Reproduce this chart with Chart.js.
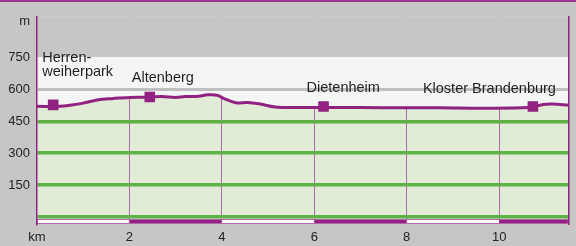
<!DOCTYPE html>
<html>
<head>
<meta charset="utf-8">
<script src="https://cdn.jsdelivr.net/npm/chart.js@4/dist/chart.umd.min.js"></script>
<style>
  html, body { margin: 0; padding: 0; background: #c6c6c6; }
  #wrap { width: 576px; height: 244px; border-top: 2px solid #9b3590; }
</style>
</head>
<body>
<div id="wrap"><canvas id="profile" width="576" height="244"></canvas></div>
<script>
// --- Route data ---
const distanceKm = [0, 0.5, 0.75, 1.0, 1.3, 1.65, 2.0, 2.4, 2.7, 3.0, 3.2, 3.45, 3.7, 3.9, 4.05, 4.3, 4.55, 4.8, 5.15, 5.6, 6.5, 7.5, 8.7, 9.6, 10.5, 10.75, 10.95, 11.15, 11.5];
const elevationM = [520, 520, 526, 535, 550, 557, 562, 563, 566, 562, 566, 566, 574, 572, 556, 537, 538, 532, 517, 514, 515, 513, 513, 511, 513, 518, 529, 531, 526];

const stationNames = [['Herren-', 'weiherpark'], ['Altenberg'], ['Dietenheim'], ['Kloster Brandenburg']];
const stationKm = [0.35, 2.44, 6.2, 10.73];
const stationM = [527, 564, 519, 519];

const kmTicks = [0, 2, 4, 6, 8, 10];
const elevationTicks = [0, 150, 300, 450, 600, 750];
const KM_MAX = 11.5;
const UNIT_TICK = 920;

const PURPLE = '#912282';
const PURPLE_SOFT = '#b267aa';
const GRID_GREEN = '#5db146';
const FILL_GREEN = '#e1ecd6';
const SKY = '#f4f6f5';
const BG_GRAY = '#c6c6c6';
const FONT = "'Liberation Sans', Arial, sans-serif";

// green area under the profile (the white fill above covers the rest)
const backdrop = {
  id: 'backdrop',
  beforeDraw(chart) {
    const { ctx, chartArea: a } = chart;
    ctx.save();
    ctx.fillStyle = FILL_GREEN;
    ctx.fillRect(a.left, a.top, a.right - a.left, a.bottom - a.top);
    ctx.restore();
  }
};

// alternating km scale bar along the bottom
const kmBar = {
  id: 'kmBar',
  afterDatasetsDraw(chart) {
    const { ctx, chartArea: a, scales: { x } } = chart;
    const h = 5, top = a.bottom - h;
    const edges = [...kmTicks, KM_MAX];
    ctx.save();
    for (let i = 0; i < edges.length - 1; i++) {
      const x0 = x.getPixelForValue(edges[i]);
      const x1 = x.getPixelForValue(edges[i + 1]);
      ctx.fillStyle = i % 2 ? PURPLE : '#ffffff';
      ctx.fillRect(x0, top, x1 - x0, h);
    }
    ctx.strokeStyle = PURPLE_SOFT;
    ctx.lineWidth = 1;
    ctx.strokeRect(a.left + 0.5, top + 0.5, a.right - a.left - 1, h - 1);
    ctx.restore();
  }
};

// station names next to their markers, drawn last so the grid stays behind them
const stationLabels = {
  id: 'stationLabels',
  offsets: [[-11, -29], [-18, -15], [-17, -15], [-110, -14]],
  afterDraw(chart) {
    const { ctx, scales: { x, y } } = chart;
    ctx.save();
    ctx.font = '14.5px ' + FONT;
    ctx.fillStyle = '#231f20';
    ctx.textAlign = 'left';
    ctx.textBaseline = 'alphabetic';
    stationNames.forEach((lines, i) => {
      const px = x.getPixelForValue(stationKm[i]) + this.offsets[i][0];
      const py = y.getPixelForValue(stationM[i]) + this.offsets[i][1];
      lines.forEach((t, j) => ctx.fillText(t, px, py - (lines.length - 1 - j) * 14));
    });
    ctx.restore();
  }
};

const profileFill = c => {
  const chart = c.chart, a = chart.chartArea;
  if (!a) return SKY;
  const stop = (chart.scales.y.getPixelForValue(750) - a.top) / (a.bottom - a.top);
  const g = chart.ctx.createLinearGradient(0, a.top, 0, a.bottom);
  g.addColorStop(0, BG_GRAY);
  g.addColorStop(stop, BG_GRAY);
  g.addColorStop(stop, SKY);
  g.addColorStop(1, SKY);
  return g;
};

new Chart(document.getElementById('profile'), {
  type: 'line',
  data: {
    datasets: [{
      label: 'Stations',
      data: stationKm.map((k, i) => ({ x: k, y: stationM[i] })),
      showLine: false,
      pointStyle: 'rect',
      pointRadius: 7.5,
      pointBorderWidth: 0,
      pointBackgroundColor: PURPLE,
      order: 0
    }, {
      label: 'Profile',
      data: distanceKm.map((k, i) => ({ x: k, y: elevationM[i] })),
      borderColor: PURPLE,
      borderWidth: 3,
      pointRadius: 0,
      tension: 0.35,
      fill: 'end',
      backgroundColor: profileFill,
      order: 1
    }]
  },
  options: {
    responsive: false,
    animation: false,
    devicePixelRatio: 1,
    layout: { padding: { top: 11, left: 0, right: 0, bottom: 0 } },
    plugins: { legend: { display: false }, tooltip: { enabled: false } },
    scales: {
      x: {
        type: 'linear',
        min: 0,
        max: KM_MAX,
        afterBuildTicks: s => { s.ticks = kmTicks.map(v => ({ value: v })); },
        afterFit: s => { s.height = 22; },
        ticks: {
          color: '#222',
          font: { family: FONT, size: 13 },
          padding: 6,
          maxRotation: 0,
          callback: v => v === 0 ? 'km' : v
        },
        grid: {
          drawTicks: false,
          color: c => c.tick && c.tick.value === 0 ? 'rgba(0,0,0,0)' : PURPLE_SOFT,
          lineWidth: 1
        },
        border: { display: false }
      },
      y: {
        min: -32,
        max: 940,
        afterBuildTicks: s => { s.ticks = [...elevationTicks, UNIT_TICK].map(v => ({ value: v })); },
        afterFit: s => { s.width = 37; },
        ticks: {
          color: '#222',
          font: { family: FONT, size: 13 },
          padding: 7,
          callback: v => v === UNIT_TICK ? 'm' : (v === 0 ? '' : v)
        },
        grid: {
          z: 1,
          drawTicks: false,
          color: c => {
            const v = c.tick && c.tick.value;
            if (v === 600) return '#bfbfbf';
            if (v === 750 || v === UNIT_TICK) return 'rgba(0,0,0,0)';
            return GRID_GREEN;
          },
          lineWidth: c => (c.tick && c.tick.value === 600) ? 3 : 3.5
        },
        border: { color: PURPLE, width: 1.5, z: 2 }
      },
      y2: {
        position: 'right',
        min: -32,
        max: 940,
        afterFit: s => { s.width = 6; },
        ticks: { display: false },
        grid: { drawOnChartArea: false, drawTicks: false },
        border: { color: PURPLE, width: 1.5, z: 2 }
      }
    }
  },
  plugins: [backdrop, kmBar, stationLabels]
});
</script>
</body>
</html>
